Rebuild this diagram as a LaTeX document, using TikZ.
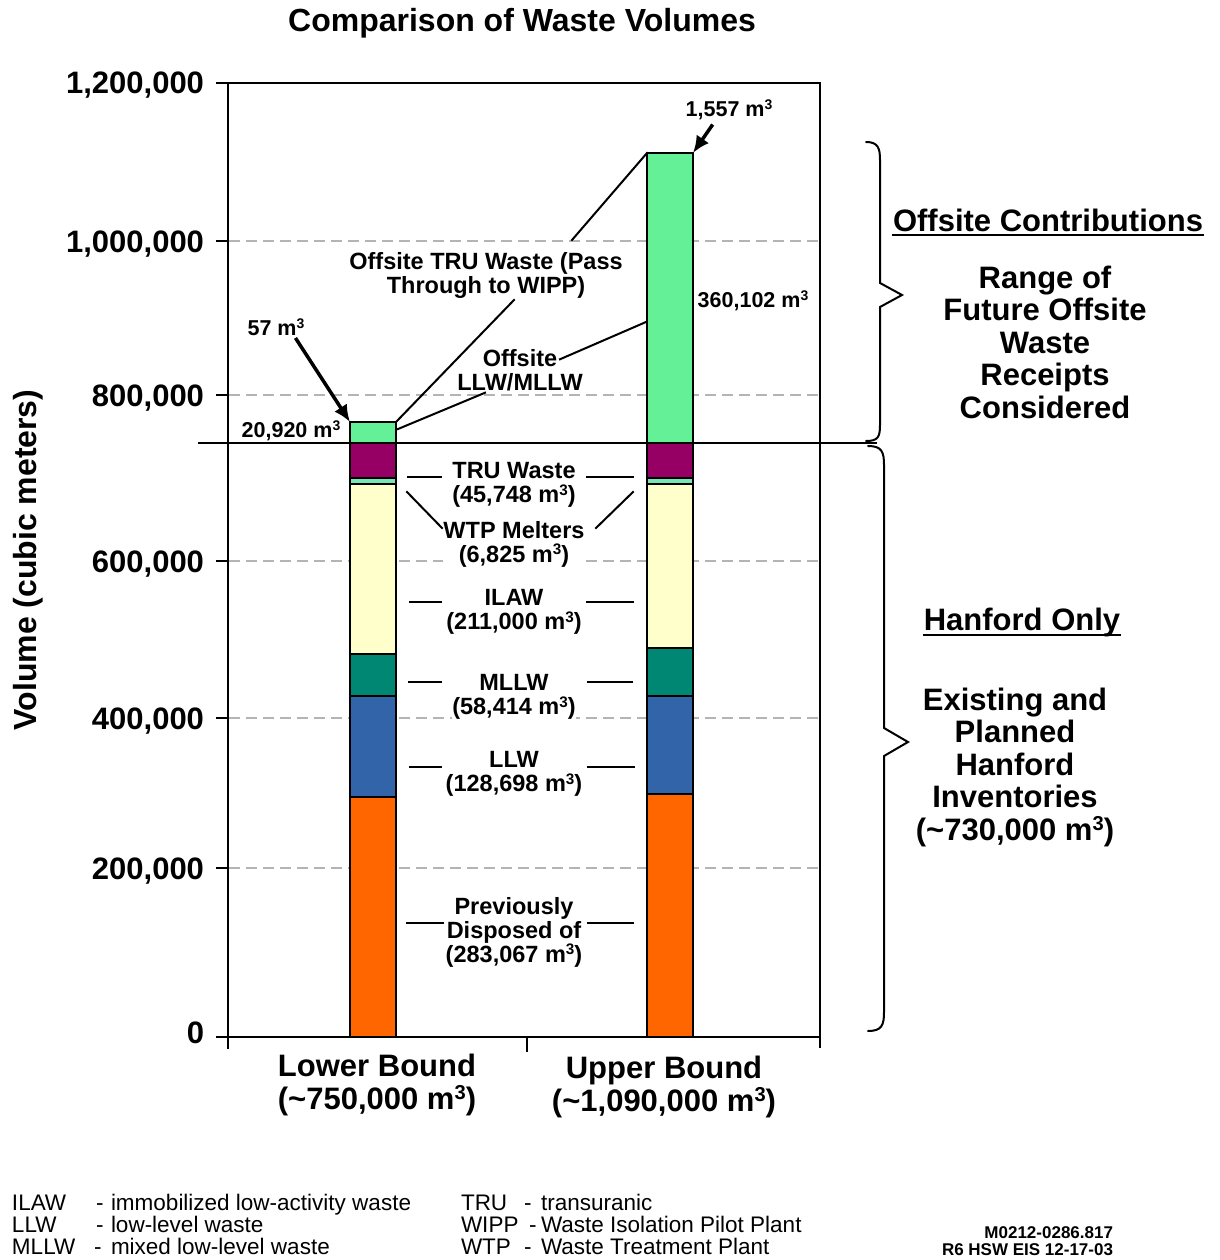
\documentclass[tikz,border=0pt]{standalone}
\usepackage{fontspec}
\setmainfont{Liberation Sans}
\usepackage{tikz}
\usetikzlibrary{arrows.meta}

\begin{document}
\begin{tikzpicture}[x=1pt,y=-1pt,line cap=rect,
		bigtext/.style={inner sep=0, outer sep=0, align=center, font=\fontsize{31pt}{32.5pt}\bfseries\selectfont},
		ticktext/.style={inner sep=0, outer sep=0, anchor=base east, font=\fontsize{31pt}{31pt}\bfseries\selectfont},
		bartext/.style={inner sep=0, outer sep=0, align=center, font=\fontsize{23.5pt}{24pt}\bfseries\selectfont},
		valtext/.style={inner sep=0, outer sep=0, font=\fontsize{21.5pt}{22pt}\bfseries\selectfont},
		legtext/.style={inner sep=0, outer sep=0, anchor=base west, font=\fontsize{22.5pt}{22pt}\selectfont},
		codetext/.style={inner sep=0, outer sep=0, anchor=base east, font=\fontsize{17pt}{18pt}\bfseries\selectfont},
		segment/.style={draw=custcol_0_0_0, line width=2.0pt},
		gridline/.style={line width=2.0pt, custcol_b4_b4_b4, dash pattern=on 9pt off 8pt},
		axisline/.style={line width=2.5pt, custcol_0_0_0},
		leader/.style={line width=2.0pt, custcol_0_0_0},
		pointer/.style={line width=3.5pt, custcol_0_0_0, -{Latex[length=17pt,width=15pt]}}]
				\def\cubicm{m\raisebox{0.32em}{\scalebox{0.65}{3}}}
				\definecolor{custcol_0_0_0}{RGB}{0, 0, 0}
				\definecolor{custcol_b4_b4_b4}{RGB}{180, 180, 180}
				\definecolor{custcol_64_f0_96}{RGB}{100, 240, 150}
				\definecolor{custcol_96_0_64}{RGB}{150, 0, 100}
				\definecolor{custcol_78_e6_b4}{RGB}{120, 230, 180}
				\definecolor{custcol_ff_ff_cc}{RGB}{255, 255, 204}
				\definecolor{custcol_0_87_73}{RGB}{0, 135, 115}
				\definecolor{custcol_32_64_aa}{RGB}{50, 100, 170}
				\definecolor{custcol_ff_66_0}{RGB}{255, 102, 0}
				\useasboundingbox (0,0) rectangle (1219,1260);
				% grid
				\draw [gridline] (230,241) -- (818,241) ;
				\draw [gridline] (230,395) -- (818,395) ;
				\draw [gridline] (230,561) -- (818,561) ;
				\draw [gridline] (230,718) -- (818,718) ;
				\draw [gridline] (230,868) -- (818,868) ;
				% lower bound bar
				\filldraw [segment, fill=custcol_ff_66_0] (350,797) rectangle (396,1037) ;
				\filldraw [segment, fill=custcol_32_64_aa] (350,696) rectangle (396,797) ;
				\filldraw [segment, fill=custcol_0_87_73] (350,654) rectangle (396,696) ;
				\filldraw [segment, fill=custcol_ff_ff_cc] (350,484) rectangle (396,654) ;
				\filldraw [segment, fill=custcol_78_e6_b4] (350,478) rectangle (396,484) ;
				\filldraw [segment, fill=custcol_96_0_64] (350,443) rectangle (396,478) ;
				\filldraw [segment, fill=custcol_64_f0_96] (350,422) rectangle (396,443) ;
				% upper bound bar
				\filldraw [segment, fill=custcol_ff_66_0] (647,794) rectangle (693,1037) ;
				\filldraw [segment, fill=custcol_32_64_aa] (647,696) rectangle (693,794) ;
				\filldraw [segment, fill=custcol_0_87_73] (647,648) rectangle (693,696) ;
				\filldraw [segment, fill=custcol_ff_ff_cc] (647,484) rectangle (693,648) ;
				\filldraw [segment, fill=custcol_78_e6_b4] (647,478) rectangle (693,484) ;
				\filldraw [segment, fill=custcol_96_0_64] (647,443) rectangle (693,478) ;
				\filldraw [segment, fill=custcol_64_f0_96] (647,153) rectangle (693,443) ;
				\coordinate (lowtopL) at (350,422);
				\coordinate (lowtopR) at (396,422);
				\coordinate (lowside) at (398,429);
				\coordinate (uptopL) at (647,153);
				\coordinate (uptopR) at (693,153);
				\coordinate (upside) at (646,322);
				% frame and ticks
				\draw [axisline] (228,83) rectangle (820,1037) ;
				\draw [axisline] (217,83) -- (228,83) ;
				\draw [axisline] (217,241) -- (228,241) ;
				\draw [axisline] (217,395) -- (228,395) ;
				\draw [axisline] (217,561) -- (228,561) ;
				\draw [axisline] (217,718) -- (228,718) ;
				\draw [axisline] (217,868) -- (228,868) ;
				\draw [axisline] (217,1037) -- (228,1037) -- (228,1048) ;
				\draw [axisline] (527,1037) -- (527,1051) ;
				\draw [axisline] (820,1037) -- (820,1047) ;
				\draw [axisline] (199,443) -- (876,443) ;
				% braces
				\draw [leader, line cap=round] (866,142) .. controls (878,142) and (880,148) .. (880,160) -- (880,283) -- (902,295) -- (880,307) -- (880,425) .. controls (880,437) and (878,441) .. (866,441) ;
				\draw [leader, line cap=round] (868,446) .. controls (882,446) and (884,452) .. (884,465) -- (884,728) -- (908,742) -- (884,756) -- (884,1012) .. controls (884,1025) and (882,1031) .. (868,1031) ;
				% titles and axis text
				\node [bigtext, font=\fontsize{32pt}{33pt}\bfseries\selectfont] (title) at (522,23) {Comparison of Waste Volumes};
				\node [bigtext, rotate=90, font=\fontsize{32pt}{33pt}\bfseries\selectfont] (ylabel) at (28,560) {Volume (cubic meters)};
				\node [ticktext] (t1200) at (204,94) {1,200,000};
				\node [ticktext] (t1000) at (204,252) {1,000,000};
				\node [ticktext] (t800) at (204,406) {800,000};
				\node [ticktext] (t600) at (204,572) {600,000};
				\node [ticktext] (t400) at (204,729) {400,000};
				\node [ticktext] (t200) at (204,879) {200,000};
				\node [ticktext] (t0) at (204,1043) {0};
				\node [bigtext] (lowbound) at (377,1085) {Lower Bound\\(\textasciitilde 750,000 \cubicm)};
				\node [bigtext] (upbound) at (664,1087) {Upper Bound\\(\textasciitilde 1,090,000 \cubicm)};
				% right side
				\node [bigtext] (offcontrib) at (1048,220) {Offsite Contributions};
				\draw [leader] ([yshift=-4pt]offcontrib.south west) -- ([yshift=-4pt]offcontrib.south east) ;
				\node [bigtext] (offrange) at (1045,342) {Range of\\Future Offsite\\Waste\\Receipts\\Considered};
				\node [bigtext, anchor=base] (hanonly) at (1022,630) {Hanford Only};
				\draw [leader] ([yshift=-5pt]hanonly.base west) -- ([yshift=-5pt]hanonly.base east) ;
				\node [bigtext] (haninv) at (1015,767) {Existing and\\Planned\\Hanford\\Inventories\\(\textasciitilde 730,000 \cubicm)};
				% offsite labels
				\node [valtext] (v1557) at (729,110) {1,557 \cubicm};
				\node [valtext] (v57) at (276,327) {57 \cubicm};
				\node [valtext] (v20920) at (291,431) {20,920 \cubicm};
				\node [valtext] (v360102) at (753,301) {360,102 \cubicm};
				\draw [pointer] ([xshift=26pt,yshift=-6pt]v1557.south west) -- (uptopR) ;
				\draw [pointer] ([xshift=-8pt,yshift=-4pt]v57.south east) -- (lowtopL) ;
				\node [bartext] (offtru) at (486,275) {Offsite TRU Waste (Pass\\Through to WIPP)};
				\draw [leader] (uptopL) -- ([xshift=86pt,yshift=12pt]offtru.north) ;
				\draw [leader] ([xshift=28pt,yshift=-2pt]offtru.south) -- (lowtopR) ;
				\node [bartext] (offllw) at (520,370) {Offsite\\LLW/MLLW};
				\draw [leader] ([xshift=40pt,yshift=-10pt]offllw.north) -- (upside) ;
				\draw [leader] ([xshift=-35pt,yshift=-2pt]offllw.south) -- (lowside) ;
				% hanford labels
				\node [bartext] (trulbl) at (514,485) {TRU Waste\\(45,748 \cubicm)};
				\draw [leader] (408,477) -- (441,477) ;
				\draw [leader] (587,477) -- (633,477) ;
				\node [bartext, fill=white] (wtplbl) at (514,544) {WTP Melters\\(6,825 \cubicm)};
				\draw [leader] (407,492) -- (442,528) ;
				\draw [leader] (633,492) -- (596,528) ;
				\node [bartext, fill=white] (ilawlbl) at (514,612) {ILAW\\(211,000 \cubicm)};
				\draw [leader] (410,602) -- (441,602) ;
				\draw [leader] (587,602) -- (633,602) ;
				\node [bartext, fill=white] (mllwlbl) at (514,697) {MLLW\\(58,414 \cubicm)};
				\draw [leader] (409,682) -- (441,682) ;
				\draw [leader] (588,682) -- (632,682) ;
				\node [bartext, fill=white] (llwlbl) at (514,774) {LLW\\(128,698 \cubicm)};
				\draw [leader] (410,767) -- (441,767) ;
				\draw [leader] (588,767) -- (634,767) ;
				\node [bartext, fill=white] (prevlbl) at (514,932) {Previously\\Disposed of\\(283,067 \cubicm)};
				\draw [leader] (407,923) -- (443,923) ;
				\draw [leader] (588,923) -- (633,923) ;
				% legend
				\node [legtext] (kilaw) at (12,1210) {ILAW};
				\node [legtext] (dilaw) at (96,1210) {-};
				\node [legtext] (nilaw) at (111,1210) {immobilized low-activity waste};
				\node [legtext] (kllw) at (12,1232) {LLW};
				\node [legtext] (dllw) at (96,1232) {-};
				\node [legtext] (nllw) at (111,1232) {low-level waste};
				\node [legtext] (kmllw) at (12,1254) {MLLW};
				\node [legtext] (dmllw) at (94,1254) {-};
				\node [legtext] (nmllw) at (111,1254) {mixed low-level waste};
				\node [legtext] (ktru) at (461,1210) {TRU};
				\node [legtext] (dtru) at (524,1210) {-};
				\node [legtext] (ntru) at (541,1210) {transuranic};
				\node [legtext] (kwipp) at (461,1232) {WIPP};
				\node [legtext] (dwipp) at (529,1232) {-};
				\node [legtext] (nwipp) at (541,1232) {Waste Isolation Pilot Plant};
				\node [legtext] (kwtp) at (461,1254) {WTP};
				\node [legtext] (dwtp) at (524,1254) {-};
				\node [legtext] (nwtp) at (541,1254) {Waste Treatment Plant};
				\node [codetext] (code1) at (1113,1238) {M0212-0286.817};
				\node [codetext] (code2) at (1113,1255) {R6 HSW EIS 12-17-03};
			\end{tikzpicture}
\end{document}
